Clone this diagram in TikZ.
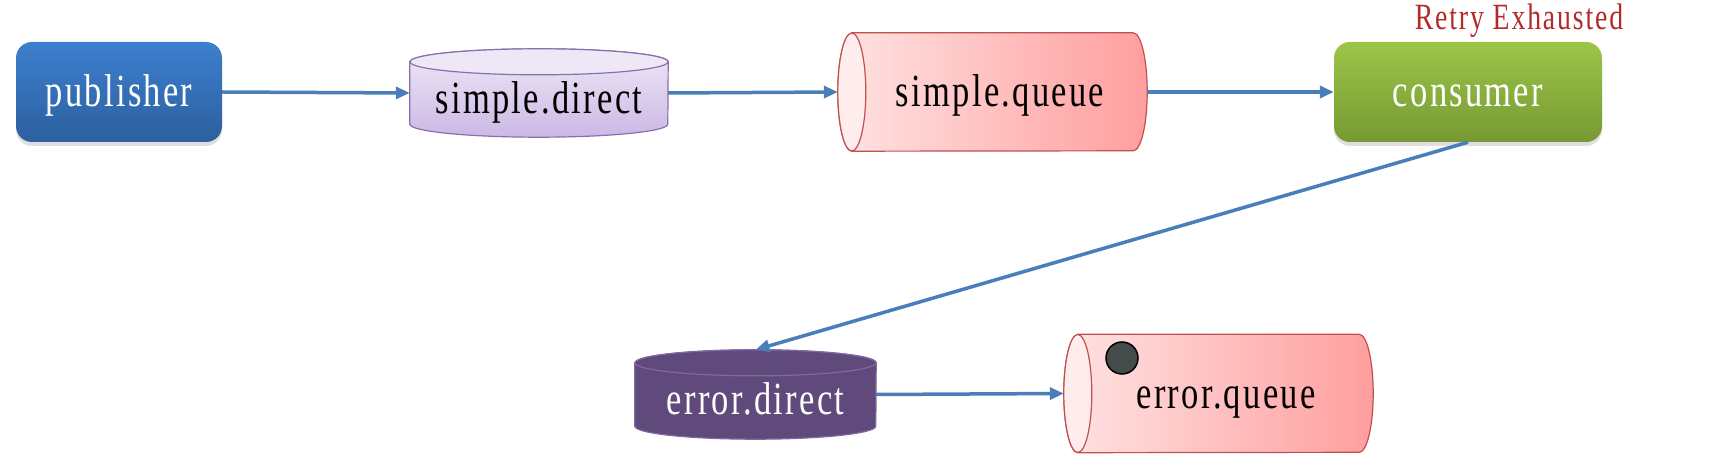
\documentclass[tikz,border=0pt]{standalone}
\usepackage{fontspec}
\setmainfont{Liberation Serif}[FakeStretch=0.75, LetterSpace=5]
\usetikzlibrary{arrows.meta,backgrounds,shadows}

\definecolor{pubtop}{HTML}{3D80CE}
\definecolor{pubbot}{HTML}{2C5F9F}
\definecolor{contop}{HTML}{9CC547}
\definecolor{conbot}{HTML}{779934}
\definecolor{exchtop}{HTML}{EEE8F6}
\definecolor{exchbot}{HTML}{CCB8E5}
\definecolor{exchline}{HTML}{8A6FAE}
\definecolor{errexch}{HTML}{604A7B}
\definecolor{errline}{HTML}{8068A2}
\definecolor{qleft}{HTML}{FFE3E3}
\definecolor{qright}{HTML}{FF9E9E}
\definecolor{qend}{HTML}{FFEDED}
\definecolor{qline}{HTML}{C0504D}
\definecolor{dotgray}{HTML}{434B4B}
\definecolor{flow}{HTML}{4A7EBB}
\definecolor{retry}{HTML}{B22A2A}

\tikzset{
  label font/.style={font=\fontsize{46}{50}\selectfont, text height=34pt, text depth=4pt},
  box/.style={label font, rounded corners=16pt, minimum width=206pt, minimum height=100pt,
    text=white, drop shadow={opacity=0.25, shadow xshift=0pt, shadow yshift=-4pt}},
  exch/.style={label font, inner sep=0pt},
  queue/.style={label font, inner sep=0pt, minimum width=309pt, minimum height=118pt},
  flowarrow/.style={draw=flow, line width=3.5pt, -{Triangle[length=14pt, width=12pt]}}
}

\begin{document}
\begin{tikzpicture}[x=1pt,y=1pt]
    \useasboundingbox (0,0) rectangle (1714,466);
    \node[box, top color=pubtop, bottom color=pubbot] (publisher) at (119,374) {publisher};
    \node[exch, minimum width=258pt, minimum height=88pt] (sdirect) at (539,373) {\raisebox{-6pt}{simple.direct}};
    \node[queue] (squeue) at (992.5,374) {\hspace*{15pt}simple.queue};
    \node[box, minimum width=268pt, top color=contop, bottom color=conbot] (consumer) at (1468,374) {consumer};
    \node[text=retry, font=\fontsize{37}{40}\selectfont] (retry) at (1519,445) {Retry Exhausted};
    \node[exch, minimum width=241pt, minimum height=89pt, text=white] (edirect) at (755.5,71.5) {\raisebox{-5pt}{error.direct}};
    \node[queue] (equeue) at (1218.5,72.5) {\hspace*{15pt}error.queue};
    \node[circle, fill=dotgray, draw=black, line width=1.5pt, minimum size=32pt, inner sep=0pt] (dot) at (1122,108) {};

    % cylinder bodies
    \begin{scope}[on background layer]
        \draw[exchline, line width=1.2pt, top color=exchtop, bottom color=exchbot]
            ([yshift=-13pt]sdirect.north west) -- ([yshift=13pt]sdirect.south west)
            arc[start angle=180, end angle=360, x radius=129pt, y radius=13pt]
            -- ([yshift=-13pt]sdirect.north east)
            arc[start angle=0, end angle=180, x radius=129pt, y radius=13pt] -- cycle;
        \draw[exchline, line width=1.2pt, fill=exchtop] ([yshift=-13pt]sdirect.north) ellipse[x radius=129pt, y radius=13pt];

        \draw[errline, line width=1.2pt, fill=errexch]
            ([yshift=-13pt]edirect.north west) -- ([yshift=13pt]edirect.south west)
            arc[start angle=180, end angle=360, x radius=120.5pt, y radius=13pt]
            -- ([yshift=-13pt]edirect.north east)
            arc[start angle=0, end angle=180, x radius=120.5pt, y radius=13pt] -- cycle;
        \draw[errline, line width=1.2pt, fill=errexch] ([yshift=-13pt]edirect.north) ellipse[x radius=120.5pt, y radius=13pt];

        \foreach \q in {squeue, equeue} {
            \draw[qline, line width=1.2pt, left color=qleft, right color=qright]
                ([xshift=14pt]\q.north west) -- ([xshift=-14pt]\q.north east)
                arc[start angle=90, end angle=-90, x radius=14pt, y radius=59pt]
                -- ([xshift=14pt]\q.south west)
                arc[start angle=270, end angle=90, x radius=14pt, y radius=59pt] -- cycle;
            \draw[qline, line width=1.2pt, fill=qend] ([xshift=14pt]\q.west) ellipse[x radius=14pt, y radius=59pt];
        }
    \end{scope}

    \path[flowarrow] (publisher.east) -- (sdirect.west);
    \path[flowarrow] (sdirect.east) -- (squeue.west);
    \path[flowarrow] (squeue.east) -- (consumer.west);
    \path[flowarrow] (consumer.south) -- (edirect.north);
    \path[flowarrow] (edirect.east) -- (equeue.west);
\end{tikzpicture}
\end{document}
